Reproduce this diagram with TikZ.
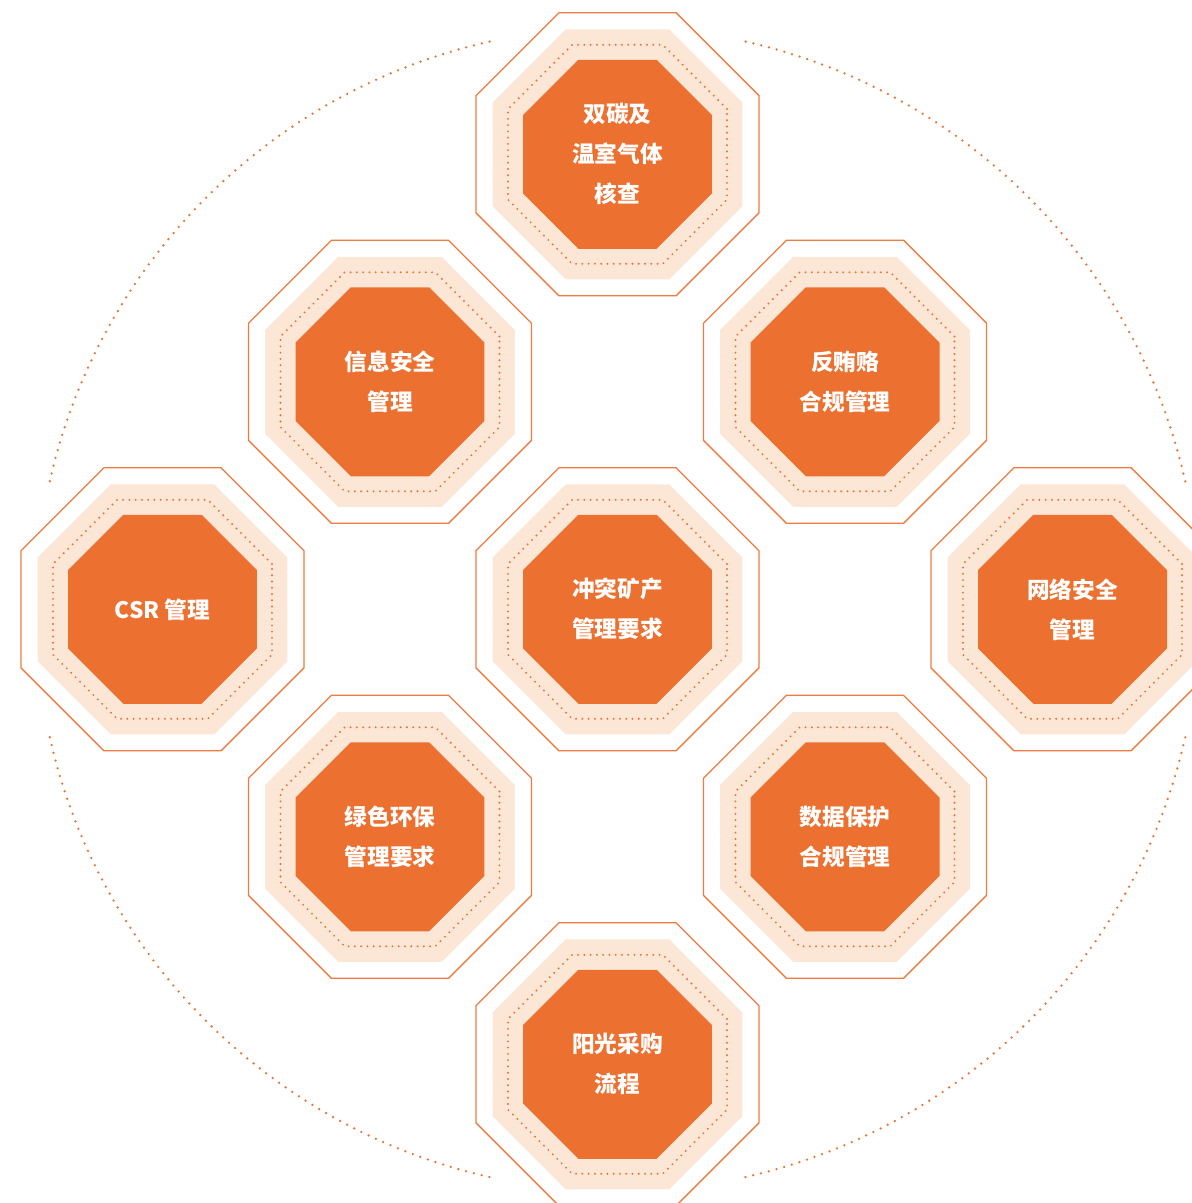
\documentclass[tikz,border=0pt]{standalone}
\usepackage{fontspec}
\newfontfamily\cjk{Noto Sans CJK SC}
\definecolor{orangemain}{HTML}{EC702F}
\definecolor{peach}{HTML}{FCE6D6}
\definecolor{lineorange}{HTML}{EE7B3F}
\tikzset{
  outerline/.style={draw=lineorange, line width=1pt},
  band/.style={fill=peach},
  innerdots/.style={draw=orangemain, line width=1.6pt, line cap=round, dash pattern=on 0pt off 4.7pt},
  core/.style={fill=orangemain},
  label/.style={text=white, align=center, font=\cjk\bfseries\fontsize{17}{30}\selectfont},
  circdots/.style={draw=orangemain, line width=1.9pt, line cap=round, dash pattern=on 0pt off 6pt}
}
\def\octpath#1{(22.5:#1) -- (67.5:#1) -- (112.5:#1) -- (157.5:#1) -- (202.5:#1) -- (247.5:#1) -- (292.5:#1) -- (337.5:#1) -- cycle}
\newcommand\octunit[4]{%
  \begin{scope}[shift={(#2,#3)}]
    \draw[outerline] \octpath{114.87pt};
    \fill[band] \octpath{101.47pt};
    \draw[innerdots] \octpath{88.89pt};
    \fill[core] \octpath{76.71pt};
    \node[label] (#1) at (0,0) {#4};
  \end{scope}}
\begin{document}
\begin{tikzpicture}[x=0.75pt,y=-0.75pt]
\useasboundingbox (0,0) rectangle (1192,1203);
\clip (0,0) rectangle (1192,1203);
\coordinate (c) at (617.5,609.3);
\draw[circdots] (c) ++(12.7:436.5pt) arc[start angle=12.7, end angle=77.3, radius=436.5pt];
\draw[circdots] (c) ++(102.7:436.5pt) arc[start angle=102.7, end angle=167.3, radius=436.5pt];
\draw[circdots] (c) ++(192.7:436.5pt) arc[start angle=192.7, end angle=257.3, radius=436.5pt];
\draw[circdots] (c) ++(282.7:436.5pt) arc[start angle=282.7, end angle=347.3, radius=436.5pt];
\octunit{top}{617.5}{154.3}{双碳及\\温室气体\\核查}
\octunit{ul}{390}{381.8}{信息安全\\管理}
\octunit{ur}{845}{381.8}{反贿赂\\合规管理}
\octunit{left}{162.5}{609.3}{CSR 管理}
\octunit{mid}{617.5}{609.3}{冲突矿产\\管理要求}
\octunit{right}{1072.5}{609.3}{网络安全\\管理}
\octunit{ll}{390}{836.8}{绿色环保\\管理要求}
\octunit{lr}{845}{836.8}{数据保护\\合规管理}
\octunit{bot}{617.5}{1064.3}{阳光采购\\流程}
\end{tikzpicture}
\end{document}
